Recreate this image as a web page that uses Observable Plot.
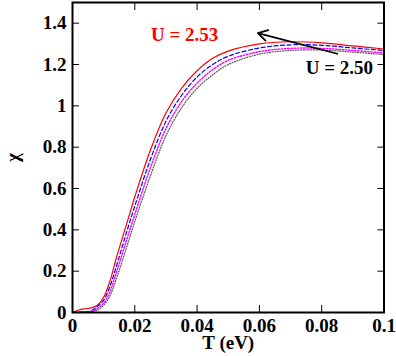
<!DOCTYPE html>
<html><head><meta charset="utf-8">
<script src="https://cdn.jsdelivr.net/npm/d3@7"></script>
<script src="https://cdn.jsdelivr.net/npm/@observablehq/plot@0.6"></script>
<style>body{margin:0;background:#fff}</style>
</head><body><div id="chart"></div>
<script>
const T = [0, 0.002, 0.004, 0.006, 0.008, 0.01, 0.012, 0.014, 0.016, 0.018, 0.02, 0.025, 0.03, 0.035, 0.04, 0.045, 0.05, 0.06, 0.07, 0.08, 0.09, 0.1];
const chiU253 = [0, 0.012, 0.018, 0.022, 0.035, 0.074, 0.15, 0.26, 0.36, 0.46, 0.56, 0.785, 0.965, 1.085, 1.17, 1.23, 1.265, 1.30, 1.31, 1.305, 1.29, 1.275];
const chiU252 = [0, 0.002, 0.004, 0.008, 0.03, 0.06, 0.125, 0.22, 0.32, 0.42, 0.515, 0.74, 0.925, 1.05, 1.14, 1.20, 1.24, 1.28, 1.295, 1.293, 1.28, 1.268];
const chiU251 = [0, 0.001, 0.002, 0.005, 0.02, 0.045, 0.10, 0.19, 0.285, 0.38, 0.475, 0.70, 0.89, 1.02, 1.11, 1.175, 1.22, 1.262, 1.278, 1.278, 1.268, 1.256];
const chiU250 = [0, 0.001, 0.002, 0.004, 0.012, 0.035, 0.08, 0.16, 0.25, 0.345, 0.44, 0.66, 0.855, 0.99, 1.085, 1.15, 1.2, 1.25, 1.268, 1.27, 1.26, 1.248];
const xTicks = [0, 0.02, 0.04, 0.06, 0.08, 0.1];
const yTicks = [0, 0.2, 0.4, 0.6, 0.8, 1, 1.2, 1.4];
const labels = [{t: 0.036, c: 1.345, s: "U = 2.53", col: "#ff0000"}, {t: 0.0857, c: 1.185, s: "U = 2.50", col: "#000000"}];
const arrowData = [{t1: 0.085, c1: 1.252, t2: 0.0595, c2: 1.352}];

const series = [
  {v: chiU253, stroke: "#ff0000", dash: null, w: 1.2},
  {v: chiU252, stroke: "#0000ff", dash: "4,2.5", w: 1.2},
  {v: chiU251, stroke: "#ff00ff", dash: "1.6,1.6", w: 1.4},
  {v: chiU250, stroke: "#555555", dash: "1,1.6", w: 1.2}
];
const lines = series.map(s => Plot.line(T.map((t, i) => ({t, c: s.v[i]})), {
  x: "t", y: "c", stroke: s.stroke, strokeWidth: s.w, strokeDasharray: s.dash, curve: "catmull-rom"
}));
const font = "Liberation Serif, Times New Roman, serif";
const chart = Plot.plot({
  width: 396, height: 356,
  marginLeft: 72, marginRight: 12.5, marginTop: 2, marginBottom: 44,
  style: {fontFamily: font, fontWeight: "bold", fontSize: "19px", color: "#000", background: "#fff"},
  x: {domain: [0, 0.1]},
  y: {domain: [0, 1.5]},
  marks: [
    ...lines,
    Plot.axisX({anchor: "bottom", ticks: xTicks, tickSize: -7, tickPadding: 13, tickFormat: d => d === 0 ? "0" : String(d), label: "T (eV)", labelAnchor: "center", labelOffset: 36, labelArrow: "none", fontSize: 19}),
    Plot.axisX({anchor: "top", ticks: xTicks, tickSize: -7, tickFormat: () => "", label: null}),
    Plot.axisY({anchor: "left", ticks: yTicks, tickSize: -7, tickPadding: 13, tickFormat: d => String(d), label: "χ", labelAnchor: "center", labelOffset: 67, labelArrow: "none", fontSize: 19}),
    Plot.axisY({anchor: "right", ticks: yTicks, tickSize: -7, tickFormat: () => "", label: null}),
    Plot.frame({stroke: "#000", strokeWidth: 2}),
    Plot.text(labels, {x: "t", y: "c", text: "s", fill: "col", fontSize: 19, fontWeight: "bold", fontFamily: font}),
    Plot.arrow(arrowData, {x1: "t1", y1: "c1", x2: "t2", y2: "c2", stroke: "#000", strokeWidth: 1.8, headLength: 9, inset: 0})
  ]
});
document.getElementById("chart").appendChild(chart);
</script>
</body></html>
